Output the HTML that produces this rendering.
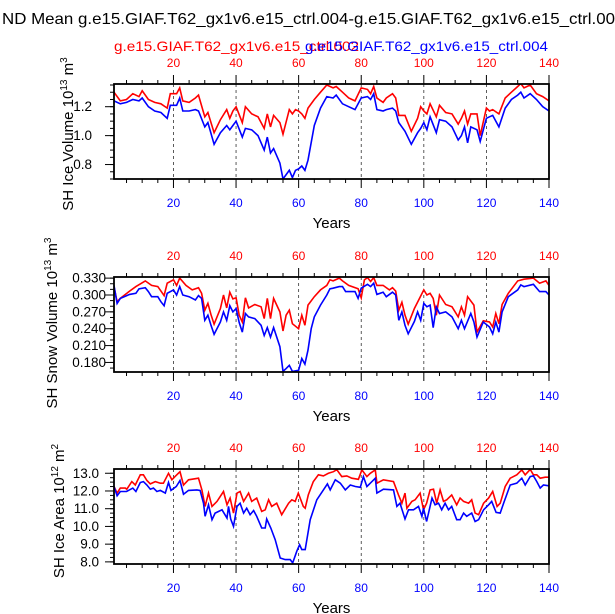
<!DOCTYPE html>
<html><head><meta charset="utf-8"><style>
body{margin:0;background:#fff;}
svg{display:block;font-family:"Liberation Sans",Arial,sans-serif;}
</style></head><body>
<svg id="chart" width="615" height="614" viewBox="0 0 615 614" xmlns="http://www.w3.org/2000/svg">
<text x="2" y="24" font-size="16" textLength="613" lengthAdjust="spacingAndGlyphs" fill="#000">ND Mean g.e15.GIAF.T62_gx1v6.e15_ctrl.004-g.e15.GIAF.T62_gx1v6.e15_ctrl.00</text>
<text x="114" y="51" font-size="14" textLength="245" lengthAdjust="spacingAndGlyphs" fill="#ff0000">g.e15.GIAF.T62_gx1v6.e15_ctrl.002</text>
<text x="305" y="51" font-size="14" textLength="243" lengthAdjust="spacingAndGlyphs" fill="#0000ff">g.e15.GIAF.T62_gx1v6.e15_ctrl.004</text>
</svg>
<script>
const xTicks=[20,40,60,80,100,120,140];
// Panel 1: ice volume
const p1BlueYears=[1,3,5,7,9,10,12,14,16,18,19,21,22,23,25,27,28,30,31,33,35,37,38,39,40,42,43,45,47,49,50,51,52,54,55,57,58,59,60,61,62,63,65,67,69,71,72,74,76,78,80,82,83,84,85,87,88,90,91,92,94,96,98,99,100,101,102,104,105,107,109,111,112,113,114,115,117,118,120,121,122,124,126,128,130,131,132,134,136,138,140];
const p1Blue=[1.24,1.22,1.23,1.25,1.24,1.26,1.20,1.17,1.16,1.12,1.21,1.21,1.26,1.17,1.17,1.18,1.17,1.06,1.09,0.94,1.02,1.07,1.04,1.07,1.10,0.99,1.05,1.04,1.00,0.90,0.99,0.88,0.91,0.81,0.70,0.76,0.71,0.76,0.77,0.79,0.76,0.83,1.07,1.19,1.27,1.26,1.28,1.22,1.20,1.18,1.26,1.27,1.25,1.29,1.18,1.17,1.18,1.19,1.17,1.09,1.03,0.94,1.02,1.05,1.09,1.04,1.13,1.02,1.11,1.10,1.06,0.97,1.00,1.06,0.95,1.06,1.04,0.96,1.12,1.13,1.14,1.06,1.19,1.25,1.28,1.30,1.26,1.29,1.25,1.20,1.17];
const p1Red=[1.30,1.24,1.25,1.29,1.27,1.31,1.25,1.23,1.22,1.19,1.29,1.29,1.33,1.24,1.23,1.26,1.28,1.13,1.16,1.02,1.11,1.18,1.12,1.17,1.20,1.09,1.20,1.15,1.13,1.05,1.15,1.06,1.14,1.09,1.01,1.18,1.15,1.18,1.17,1.15,1.12,1.19,1.25,1.30,1.35,1.33,1.34,1.30,1.26,1.24,1.33,1.32,1.29,1.34,1.26,1.23,1.26,1.29,1.26,1.14,1.14,1.03,1.12,1.20,1.17,1.15,1.22,1.13,1.21,1.16,1.15,1.08,1.12,1.17,1.08,1.15,1.15,1.00,1.19,1.17,1.18,1.15,1.26,1.30,1.34,1.36,1.33,1.35,1.29,1.27,1.24];
const p1YTicks=[0.8,1.0,1.2];
const p1YLabels=["0.8","1.0","1.2"];
// Panel 2: snow volume
const p2BlueYears=[1,2,3,6,8,9,11,12,13,15,16,17,18,20,21,22,23,25,27,28,29,30,31,32,33,35,36,37,38,39,40,41,42,43,44,46,48,49,50,51,52,54,55,56,57,58,60,61,62,63,64,65,67,69,70,71,73,74,75,78,79,80,82,83,84,85,87,88,90,91,92,93,94,95,97,98,99,100,101,102,103,104,105,107,109,111,112,113,115,116,117,119,121,122,123,124,125,127,130,131,132,135,137,139,140];
const p2Blue=[0.317,0.285,0.294,0.301,0.303,0.311,0.313,0.306,0.297,0.297,0.288,0.281,0.303,0.309,0.300,0.315,0.300,0.297,0.291,0.299,0.294,0.255,0.264,0.246,0.230,0.252,0.270,0.255,0.281,0.270,0.276,0.251,0.234,0.267,0.261,0.258,0.246,0.228,0.242,0.225,0.242,0.208,0.164,0.169,0.175,0.164,0.166,0.187,0.177,0.202,0.240,0.261,0.282,0.300,0.311,0.312,0.315,0.315,0.306,0.306,0.294,0.312,0.319,0.315,0.321,0.301,0.305,0.297,0.305,0.300,0.255,0.270,0.246,0.231,0.253,0.270,0.255,0.285,0.279,0.282,0.242,0.279,0.267,0.270,0.261,0.240,0.255,0.240,0.267,0.252,0.225,0.252,0.243,0.231,0.252,0.234,0.270,0.297,0.309,0.318,0.315,0.319,0.306,0.306,0.300];
const p2RedYears=[1,2,3,6,8,11,13,15,17,18,20,21,22,24,26,28,29,30,31,32,33,35,36,37,38,39,40,41,42,43,44,46,48,49,50,51,52,54,55,56,57,58,60,61,62,63,65,67,69,70,71,73,74,76,79,80,81,82,83,84,85,87,89,90,91,92,93,94,95,97,100,101,102,103,104,105,107,109,111,112,113,114,116,117,119,121,122,123,124,125,127,130,132,135,137,139,140];
const p2Red=[0.315,0.288,0.294,0.307,0.315,0.325,0.317,0.315,0.299,0.321,0.327,0.317,0.330,0.317,0.309,0.313,0.303,0.273,0.285,0.265,0.248,0.276,0.300,0.277,0.305,0.293,0.295,0.264,0.252,0.295,0.277,0.283,0.279,0.258,0.294,0.258,0.294,0.270,0.236,0.264,0.273,0.249,0.240,0.264,0.246,0.282,0.297,0.309,0.317,0.327,0.325,0.330,0.325,0.317,0.311,0.295,0.327,0.331,0.324,0.331,0.317,0.317,0.309,0.313,0.307,0.273,0.287,0.264,0.248,0.276,0.309,0.300,0.303,0.294,0.264,0.300,0.283,0.279,0.261,0.279,0.264,0.297,0.282,0.234,0.254,0.252,0.243,0.267,0.249,0.283,0.303,0.325,0.328,0.330,0.321,0.325,0.317];
const p2YTicks=[0.18,0.21,0.24,0.27,0.30,0.33];
const p2YLabels=["0.180","0.210","0.240","0.270","0.300","0.330"];
// Panel 3: ice area
const p3BlueYears=[1,2,3,5,7,8,9.4,10.4,11.5,12.6,13.6,14.7,15.8,17.4,18.4,19.2,20.9,22.1,23.2,24.8,27.5,28.5,29.6,30.1,31.2,32.3,33.3,35.5,37.1,37.6,38.3,39.2,40.3,41.3,42.4,43.4,44.5,45.6,46.6,48.2,49.3,49.8,51.1,52.5,54.1,55.7,57.3,58.1,59.4,60.3,61,62.1,63.7,65.8,67.9,69.2,70.1,71.7,73.3,74.9,76.5,78.1,79.7,80.7,81.8,82.9,84.5,85,87.1,90.3,91.4,92.4,94,95.1,96.7,98.3,99.4,99.9,100.9,102.6,103.6,104.7,105.7,106.8,107.9,108.9,110.5,111.6,112.7,113.7,115.3,116.4,117.5,119.1,120.7,121.7,123.1,124.4,125.5,127.6,129.7,131.3,132.4,134,135,136.1,137.2,138.2,140];
const p3Blue=[12.25,11.73,11.97,11.97,12.16,11.97,12.48,12.53,12.34,12.10,12.16,11.97,12.03,11.88,12.48,12.03,12.25,12.59,11.82,12.03,12.06,12.03,11.31,10.57,11.22,10.38,10.75,10.94,10.47,11.13,10.42,10.0,11.13,11.31,10.75,11.03,10.66,10.90,10.57,9.91,9.91,10.42,9.91,9.25,8.22,8.13,8.13,7.94,8.60,8.97,8.69,8.69,10.38,11.50,12.06,12.40,12.06,12.63,12.44,12.06,12.34,12.25,12.21,12.81,12.25,12.44,12.72,11.88,12.10,12.06,11.13,11.31,10.42,10.94,10.94,11.13,10.57,11.03,10.28,11.60,11.22,11.31,10.94,11.31,10.94,11.13,10.38,10.38,10.75,10.57,10.75,10.28,10.38,10.94,11.22,11.41,10.79,10.75,11.31,12.34,12.44,12.72,12.34,12.81,12.85,12.53,12.16,12.34,12.29];
const p3RedYears=[1,2,3,4.6,5.1,6.7,7.8,9.4,10.4,11.5,12.6,14.2,15.8,16.8,18.4,19.5,20.5,22.1,23.2,24.8,28,29.1,30.1,31.2,32.3,33.9,36,37.1,38.1,39.2,40.3,41.3,42.4,44,45,46.6,48.2,49.3,50.4,51.4,53,54.6,56.8,57.8,58.9,59.9,61.5,62.1,63.1,64.7,66.3,67.9,69.5,71.1,72.2,73.8,75.4,77,79.1,80.2,81.8,82.9,84.5,85,87.1,90.3,91.9,93,94,94.6,96.2,97.2,98.8,99.9,100.9,102,103.1,104.1,105.2,106.3,107.3,108.9,110.5,111.6,112.7,114.3,115.3,116.4,117.5,119.1,120.7,122,123.4,124.4,126,127.6,129.7,131.3,132.4,134,135,136.1,137.2,138.8,140];
const p3Red=[12.25,11.88,12.16,12.16,12.10,12.53,12.34,12.91,12.91,12.59,12.40,12.53,12.44,12.44,13.0,12.63,12.81,13.09,12.34,12.63,12.72,12.06,11.13,11.88,11.13,11.41,11.97,11.22,11.60,10.75,11.88,11.97,11.41,11.88,11.41,11.60,10.85,10.94,11.50,11.13,11.31,10.66,11.31,11.50,11.41,11.88,11.13,11.03,11.78,12.53,12.91,12.85,13.0,13.09,13.2,12.81,12.85,12.72,12.66,13.19,12.81,13.0,13.19,12.44,12.63,12.53,11.78,11.31,11.88,11.03,11.41,11.50,11.88,10.94,11.31,12.06,12.10,11.31,12.06,11.41,11.50,11.78,11.22,11.60,11.41,11.31,11.50,10.75,10.66,11.31,11.60,11.97,11.13,11.31,12.25,12.72,12.91,13.19,12.91,13.22,12.91,12.91,12.72,12.78,12.78];
const p3YTicks=[8,9,10,11,12,13];
const p3YLabels=["8.0","9.0","10.0","11.0","12.0","13.0"];

const NS="http://www.w3.org/2000/svg";
const svg=document.getElementById('chart');
function mk(tag,attrs,parent){const e=document.createElementNS(NS,tag);for(const k in attrs)e.setAttribute(k,attrs[k]);(parent||svg).appendChild(e);return e;}
const X0=114,X1=549,XMIN=1,XMAX=140;
function xs(v){return X0+(v-XMIN)/(XMAX-XMIN)*(X1-X0);}

const panels=[
 {top:84,bot:179,ymin:0.70,ymax:1.357,minorStep:0.05,yt:p1YTicks,yl:p1YLabels,bx:p1BlueYears,b:p1Blue,rx:p1BlueYears,r:p1Red,title:'SH Ice Volume 10',sup1:'13',unit:' m',sup2:'3',name:'ice-volume',lx:92,tx:73,ty:134},
 {top:277,bot:372,ymin:0.163,ymax:0.332,minorStep:0.01,yt:p2YTicks,yl:p2YLabels,bx:p2BlueYears,b:p2Blue,rx:p2RedYears,r:p2Red,title:'SH Snow Volume 10',sup1:'13',unit:' m',sup2:'3',name:'snow-volume',lx:106,tx:57,ty:323},
 {top:469,bot:564,ymin:7.88,ymax:13.24,minorStep:0.25,yt:p3YTicks,yl:p3YLabels,bx:p3BlueYears,b:p3Blue,rx:p3RedYears,r:p3Red,title:'SH Ice Area 10',sup1:'12',unit:' m',sup2:'2',name:'ice-area',lx:99,tx:64,ty:511}
];

panels.forEach(p=>{
 const g=mk('g',{});
 
 
 const ys=v=>p.bot-(v-p.ymin)/(p.ymax-p.ymin)*(p.bot-p.top);
 xTicks.slice(0,6).forEach(t=>{
  const l=mk('line',{x1:xs(t),x2:xs(t),y1:p.top,y2:p.bot,stroke:'#333','stroke-width':0.8,'stroke-dasharray':'3,3'},g);
  
  
 });
 for(let t=5;t<=140;t+=5){
  const major=t%20===0;const len=major?9:4;const x=xs(t);
  mk('line',{x1:x,x2:x,y1:p.bot,y2:p.bot+len,stroke:'#000','stroke-width':1},g);
  mk('line',{x1:x,x2:x,y1:p.top,y2:p.top-len,stroke:'#000','stroke-width':1},g);
 }
 xTicks.forEach(t=>{
  const a=mk('text',{x:xs(t),y:p.bot+28,'font-size':12,fill:'#0000ff','text-anchor':'middle'},g);a.textContent=t;
  
  
  const b=mk('text',{x:xs(t),y:p.top-17,'font-size':12,fill:'#ff0000','text-anchor':'middle'},g);b.textContent=t;
  
  
 });
 const s=Math.ceil(p.ymin/p.minorStep-1e-6);
 for(let k=s;k*p.minorStep<=p.ymax+1e-9;k++){const y=ys(k*p.minorStep);mk('line',{x1:X0-4,x2:X0,y1:y,y2:y,stroke:'#000','stroke-width':1},g);}
 p.yt.forEach((t,i)=>{
  const y=ys(t);
  mk('line',{x1:X0-9,x2:X0,y1:y,y2:y,stroke:'#000','stroke-width':1},g);
  const tx=mk('text',{x:p.lx,y:y+4.5,'font-size':13.5,fill:'#000','text-anchor':'end'},g);tx.textContent=p.yl[i];
  
  
 });
 function line(xsArr,vals,color,nm){
  const n=Math.min(xsArr.length,vals.length);let d='';
  for(let i=0;i<n;i++)d+=(i?'L':'M')+xs(xsArr[i]).toFixed(1)+','+ys(vals[i]).toFixed(1);
  const pa=mk('path',{d:d,fill:'none',stroke:color,'stroke-width':1.6,'clip-path':'url(#clip-'+p.name+')'},g);
  
  
 }
 const cp=mk('clipPath',{id:'clip-'+p.name},g);mk('rect',{x:X0,y:p.top,width:X1-X0,height:p.bot-p.top},cp);
 line(p.rx,p.r,'#ff0000',p.name+'-red-series');
 line(p.bx,p.b,'#0000ff',p.name+'-blue-series');
 const fr=mk('rect',{x:X0,y:p.top,width:X1-X0,height:p.bot-p.top,fill:'none',stroke:'#000','stroke-width':1.8},g);
 
 
 const xl=mk('text',{x:(X0+X1)/2,y:p.bot+49,'font-size':15,fill:'#000','text-anchor':'middle'},g);xl.textContent='Years';
 
 
 const yt=mk('text',{x:0,y:0,'font-size':15,fill:'#000','text-anchor':'middle',transform:'translate('+p.tx+','+p.ty+') rotate(-90)'},g);
 
 
 const t1=mk('tspan',{},yt);t1.textContent=p.title;
 const t2=mk('tspan',{dy:-6,'font-size':10},yt);t2.textContent=p.sup1;
 const t3=mk('tspan',{dy:6},yt);t3.textContent=p.unit;
 const t4=mk('tspan',{dy:-6,'font-size':10},yt);t4.textContent=p.sup2;
});
</script>
</body></html>
